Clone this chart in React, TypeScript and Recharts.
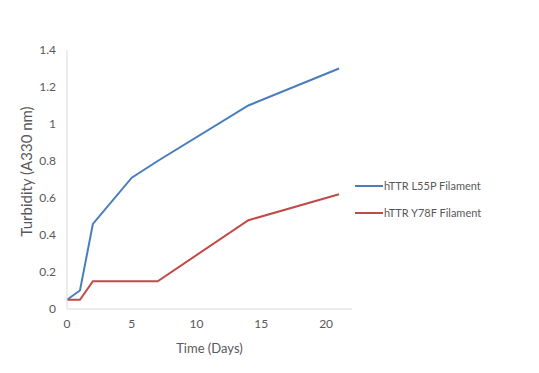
import { LineChart, Line, XAxis, YAxis } from 'recharts'

// Time (days) and turbidity readings
const l55pDays = [0, 1, 2, 5, 7, 14, 21]
const l55pValues = [0.05, 0.1, 0.46, 0.71, 0.8, 1.1, 1.3]
const y78fDays = [0, 1, 2, 7, 14, 21]
const y78fValues = [0.05, 0.05, 0.15, 0.15, 0.48, 0.62]

const xTicks = [0, 5, 10, 15, 20]
const yTicks = [0, 0.2, 0.4, 0.6, 0.8, 1, 1.2, 1.4]

const l55pData = l55pDays.map((day, i) => ({ day, value: l55pValues[i] }))
const y78fData = y78fDays.map((day, i) => ({ day, value: y78fValues[i] }))

const BLUE = '#4a7ebb'
const RED = '#be4b48'
const TEXT = '#595959'
const FONT = 'Lato, "Open Sans", sans-serif'

const series = [
  { name: 'hTTR L55P Filament', color: BLUE },
  { name: 'hTTR Y78F Filament', color: RED }
]

// legend sits to the right of the plot, like the Excel original
function LegendBox() {
  return (
    <div style={{ position: 'absolute', left: 355, top: 172, fontFamily: FONT, fontSize: 11, color: TEXT }}>
      {series.map((s) => (
        <div key={s.name} style={{ display: 'flex', alignItems: 'center', height: 27 }}>
          <div style={{ width: 28, height: 2, background: s.color }} />
          <span style={{ marginLeft: 1 }}>{s.name}</span>
        </div>
      ))}
    </div>
  )
}

export default function App() {
  return (
    <div style={{ position: 'absolute', left: 0, top: 0, width: 539, height: 373, background: '#fff' }}>
      <LineChart width={539} height={373} margin={{ top: 50, right: 187, bottom: 0, left: 0 }}>
        <XAxis
          type="number"
          dataKey="day"
          domain={[0, 22]}
          ticks={xTicks}
          allowDuplicatedCategory={false}
          axisLine={{ stroke: '#d9d9d9' }}
          tickLine={false}
          tickMargin={4}
          height={64}
          tick={{ fill: TEXT, fontSize: 12, fontFamily: FONT }}
          label={{ value: 'Time (Days)', position: 'insideBottom', offset: 20, fill: TEXT, fontSize: 13, fontFamily: FONT }}
        />
        <YAxis
          type="number"
          domain={[0, 1.4]}
          ticks={yTicks}
          width={67}
          axisLine={{ stroke: '#d9d9d9' }}
          tickLine={false}
          tickMargin={5}
          tick={{ fill: TEXT, fontSize: 12, fontFamily: FONT }}
          label={{ value: 'Turbidity (A330 nm)', angle: -90, position: 'insideLeft', offset: 27, dy: -8, fill: TEXT, fontSize: 15, fontFamily: FONT, style: { textAnchor: 'middle' } }}
        />
        <Line
          data={l55pData}
          dataKey="value"
          name="hTTR L55P Filament"
          stroke={BLUE}
          strokeWidth={2}
          dot={false}
          isAnimationActive={false}
        />
        <Line
          data={y78fData}
          dataKey="value"
          name="hTTR Y78F Filament"
          stroke={RED}
          strokeWidth={2}
          dot={false}
          isAnimationActive={false}
        />
      </LineChart>
      <LegendBox />
    </div>
  )
}
